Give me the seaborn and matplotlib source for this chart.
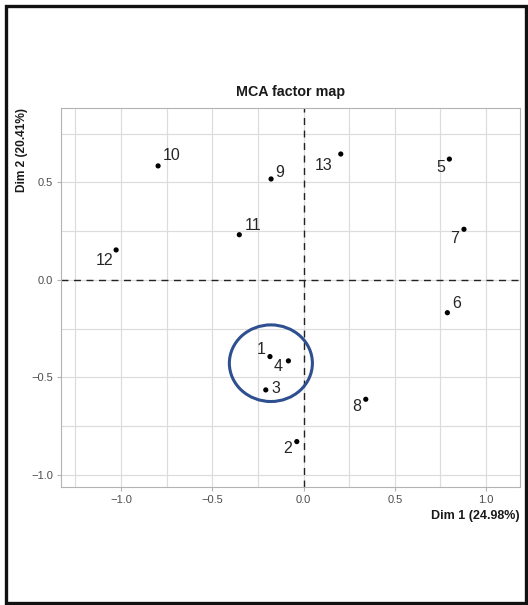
import matplotlib
matplotlib.use("Agg")
import matplotlib.pyplot as plt
from matplotlib.patches import Ellipse, Rectangle
import numpy as np
import pandas as pd
import seaborn as sns

# Individuals on the first two MCA dimensions
ids = ["1", "2", "3", "4", "5", "6", "7", "8", "9", "10", "11", "12", "13"]
dim1 = [-0.184, -0.037, -0.207, -0.083, 0.799, 0.788, 0.879, 0.341, -0.178, -0.797, -0.352, -1.027, 0.204]
dim2 = [-0.393, -0.829, -0.564, -0.415, 0.620, -0.168, 0.260, -0.612, 0.518, 0.585, 0.232, 0.154, 0.646]

x_ticks = [-1.0, -0.5, 0.0, 0.5, 1.0]
y_ticks = [-1.0, -0.5, 0.0, 0.5]
title = "MCA factor map"
x_label = "Dim 1 (24.98%)"
y_label = "Dim 2 (20.41%)"

df = pd.DataFrame({"id": ids, "Dim1": dim1, "Dim2": dim2})

# label offsets in points (repelled placement)
label_offsets = {
    "1": (-6.5, 5.0), "2": (-6.5, -5.0), "3": (7.2, 0.7), "4": (-7.2, -4.3),
    "5": (-6.5, -5.8), "6": (6.5, 6.5), "7": (-6.5, -6.5), "8": (-6.5, -5.0),
    "9": (6.5, 4.3), "10": (9.4, 7.6), "11": (9.6, 6.5), "12": (-8.6, -7.6),
    "13": (-12.2, -8.3),
}

sns.set_theme(style="white")
plt.rcParams["font.family"] = ["Liberation Sans", "DejaVu Sans"]

W, H = 528, 605
fig = plt.figure(figsize=(W / 100, H / 100), dpi=100)
ax = fig.add_axes([61 / W, 1 - 487 / H, (520 - 61) / W, (487 - 108) / H])

ax.set_xlim(-1.329, 1.186)
ax.set_ylim(-1.062, 0.882)

grid_col = "#DCDCDC"
for v in np.arange(-1.25, 1.26, 0.25):
    ax.axvline(v, color=grid_col, lw=0.85, zorder=0)
for v in np.arange(-1.0, 0.76, 0.25):
    ax.axhline(v, color=grid_col, lw=0.85, zorder=0)

ax.axvline(0, color="#222222", lw=1.0, ls=(0, (5, 4)), zorder=1)
ax.axhline(0, color="#222222", lw=1.0, ls=(0, (5, 4)), zorder=1)

sns.scatterplot(data=df, x="Dim1", y="Dim2", ax=ax, color="black", s=14,
                edgecolor="none", zorder=3, legend=False)

for _, r in df.iterrows():
    dx, dy = label_offsets[r["id"]]
    ax.annotate(r["id"], (r["Dim1"], r["Dim2"]), xytext=(dx, dy),
                textcoords="offset points", ha="center", va="center",
                fontsize=11.5, color="#262626", zorder=4)

# highlight the cluster of individuals 1, 3, 4
ax.add_patch(Ellipse((-0.179, -0.427), 0.455, 0.393, fill=False,
                     edgecolor="#2E5090", lw=2.2, zorder=5))

ax.set_xticks(x_ticks)
ax.set_yticks(y_ticks)
ax.set_xticklabels([f"{t:.1f}".replace("-", "\u2212") for t in x_ticks])
ax.set_yticklabels([f"{t:.1f}".replace("-", "\u2212") for t in y_ticks])
ax.tick_params(axis="both", which="both", length=3, width=0.8, color="#B3B3B3",
               labelsize=8, labelcolor="#4D4D4D", pad=2.5, direction="out",
               bottom=True, left=True)
for s in ax.spines.values():
    s.set_color("#B3B3B3")
    s.set_linewidth(0.8)

ax.set_xlabel("")
ax.set_ylabel("")
fig.text(290.5 / W, 1 - 92 / H, title, ha="center", va="center",
         fontsize=10.3, fontweight="bold", color="#1A1A1A")
fig.text(520 / W, 1 - 515.5 / H, x_label, ha="right", va="center",
         fontsize=9, fontweight="bold", color="#1A1A1A")
fig.text(22 / W, 1 - 108 / H, y_label, ha="center", va="top", rotation=90,
         fontsize=8.6, fontweight="bold", color="#1A1A1A")

# outer frame around the figure
fig.add_artist(Rectangle((6 / W, 1 - 603 / H), (526 - 6) / W, (603 - 6) / H,
                         transform=fig.transFigure, fill=False,
                         edgecolor="#111111", lw=2.4))

fig.savefig("out.png", dpi=100)
